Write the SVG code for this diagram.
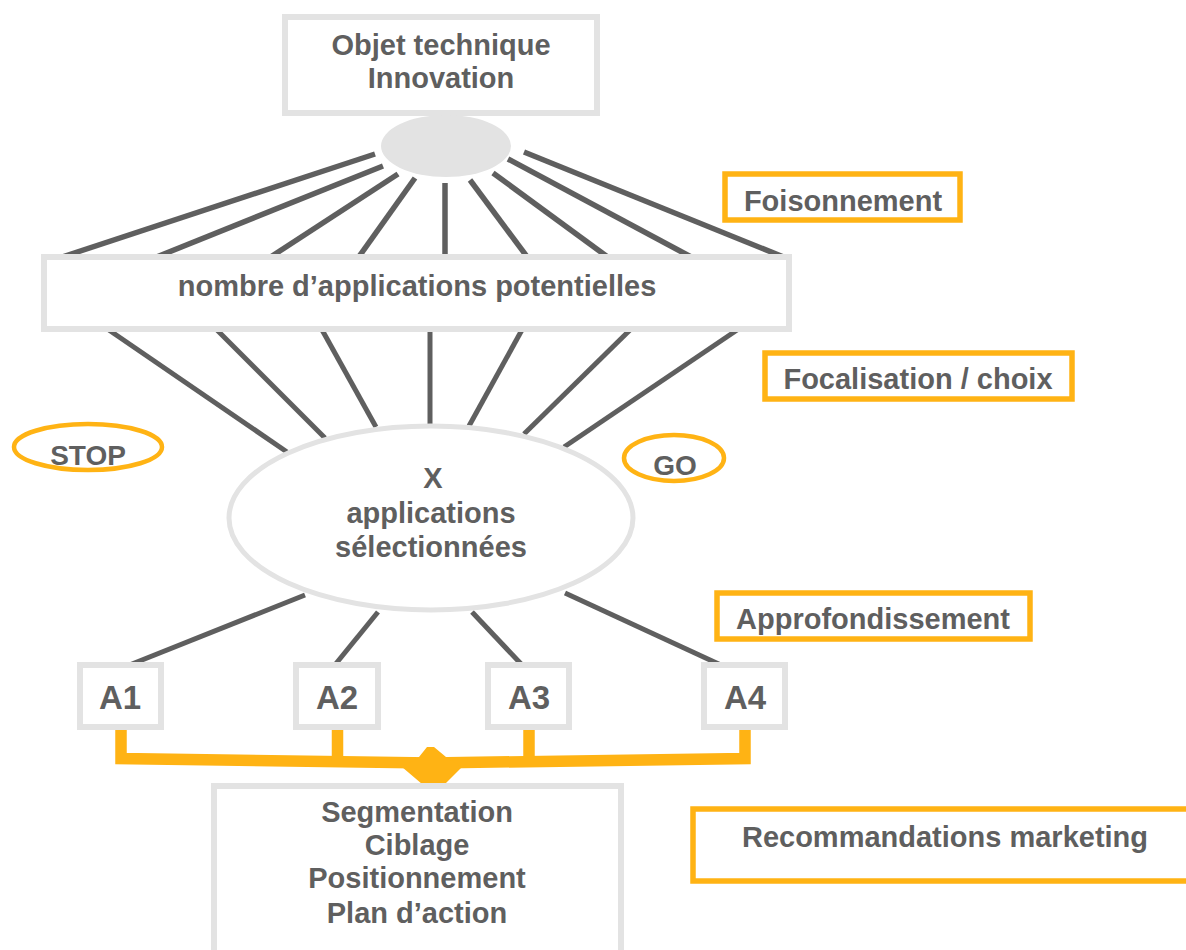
<svg xmlns="http://www.w3.org/2000/svg" width="1186" height="950" viewBox="0 0 1186 950">
<style>
text{font-family:"Liberation Sans",Arial,sans-serif;font-weight:bold;fill:#5f5f5f;text-anchor:middle}
.t{font-size:29px}
.a{font-size:33px}
.gbox{fill:#ffffff;stroke:#e3e3e3;stroke-width:6}
.obox{fill:#ffffff;stroke:#ffb314;stroke-width:5.5}
.oell{fill:none;stroke:#ffb314;stroke-width:4.5}
.ln{stroke:#5f5f5f;stroke-width:5.5;fill:none}
.ln2{stroke:#5f5f5f;stroke-width:5;fill:none}
.or{stroke:#ffb314;stroke-width:11.5;fill:none;stroke-linejoin:miter}
</style>
<rect width="1186" height="950" fill="#ffffff"/>
<g id="connectors">
<line class="ln" x1="375" y1="154" x2="59" y2="258"/>
<line class="ln" x1="383" y1="166" x2="154" y2="258"/>
<line class="ln" x1="398" y1="174" x2="269" y2="258"/>
<line class="ln" x1="415" y1="178" x2="358" y2="258"/>
<line class="ln" x1="445" y1="183" x2="445" y2="258"/>
<line class="ln" x1="470" y1="180" x2="528" y2="258"/>
<line class="ln" x1="493" y1="173" x2="609" y2="258"/>
<line class="ln" x1="508" y1="159" x2="693" y2="258"/>
<line class="ln" x1="524" y1="152" x2="786" y2="258"/>
<line class="ln2" x1="106" y1="328" x2="287" y2="452"/>
<line class="ln2" x1="214" y1="327" x2="325" y2="438"/>
<line class="ln2" x1="321" y1="328" x2="376" y2="427"/>
<line class="ln2" x1="430" y1="328" x2="430" y2="424"/>
<line class="ln2" x1="523" y1="328" x2="469" y2="426"/>
<line class="ln2" x1="632" y1="328" x2="524" y2="434"/>
<line class="ln2" x1="740" y1="328" x2="564" y2="447"/>
<line class="ln2" x1="305" y1="595" x2="127" y2="666"/>
<line class="ln2" x1="378" y1="612" x2="334" y2="666"/>
<line class="ln2" x1="472" y1="612" x2="523" y2="666"/>
<line class="ln2" x1="565" y1="593" x2="723" y2="666"/>
<path class="or" d="M121,728 V758.5 L431,763 L745,758.5 V728"/>
<path class="or" d="M337.5,728 V761"/>
<path class="or" d="M529,728 V761"/>
<polygon fill="#ffb314" points="402,767 419,757 427,747 434,747 446,757 462,767 445,784 422,784"/>
</g>
<g id="objet">
<rect class="gbox" x="285" y="17" width="312" height="96"/>
<text class="t" x="441" y="55">Objet technique</text>
<text class="t" x="441" y="88">Innovation</text>
</g>
<g id="hub">
<ellipse cx="446" cy="146" rx="65" ry="31" fill="#e3e3e3"/>
</g>
<g id="nombre">
<rect class="gbox" x="44" y="257" width="745" height="72"/>
<text class="t" x="417" y="296">nombre d’applications potentielles</text>
</g>
<g id="foisonnement">
<rect class="obox" x="725" y="174" width="235" height="46"/>
<text class="t" x="843" y="211">Foisonnement</text>
</g>
<g id="focalisation">
<rect class="obox" x="765" y="353" width="307" height="46"/>
<text class="t" x="918" y="389">Focalisation / choix</text>
</g>
<g id="stop">
<ellipse class="oell" cx="88" cy="447" rx="74" ry="23"/>
<text style="font-size:28px" x="88" y="465">STOP</text>
</g>
<g id="go">
<ellipse class="oell" cx="674" cy="458" rx="50" ry="23"/>
<text style="font-size:28px" x="675" y="475">GO</text>
</g>
<g id="selection">
<ellipse cx="431" cy="518" rx="202" ry="92" fill="#ffffff" stroke="#e3e3e3" stroke-width="5"/>
<text class="t" x="433" y="488">X</text>
<text class="t" x="431" y="523">applications</text>
<text class="t" x="431" y="557">sélectionnées</text>
</g>
<g id="approfondissement">
<rect class="obox" x="717" y="593" width="313" height="46"/>
<text class="t" x="873" y="629">Approfondissement</text>
</g>
<g id="A1">
<rect class="gbox" x="80" y="665" width="81" height="62"/>
<text class="a" x="120" y="709">A1</text>
</g>
<g id="A2">
<rect class="gbox" x="296" y="665" width="82" height="62"/>
<text class="a" x="337" y="709">A2</text>
</g>
<g id="A3">
<rect class="gbox" x="488" y="665" width="81" height="62"/>
<text class="a" x="529" y="709">A3</text>
</g>
<g id="A4">
<rect class="gbox" x="704" y="665" width="81" height="62"/>
<text class="a" x="745" y="709">A4</text>
</g>
<g id="segmentation">
<rect class="gbox" x="214" y="786" width="407" height="200"/>
<text class="t" x="417" y="822">Segmentation</text>
<text class="t" x="417" y="855">Ciblage</text>
<text class="t" x="417" y="888">Positionnement</text>
<text class="t" x="417" y="923">Plan d’action</text>
</g>
<g id="recommandations">
<rect class="obox" x="693" y="809" width="540" height="72"/>
<text class="t" x="945" y="847">Recommandations marketing</text>
</g>
</svg>
